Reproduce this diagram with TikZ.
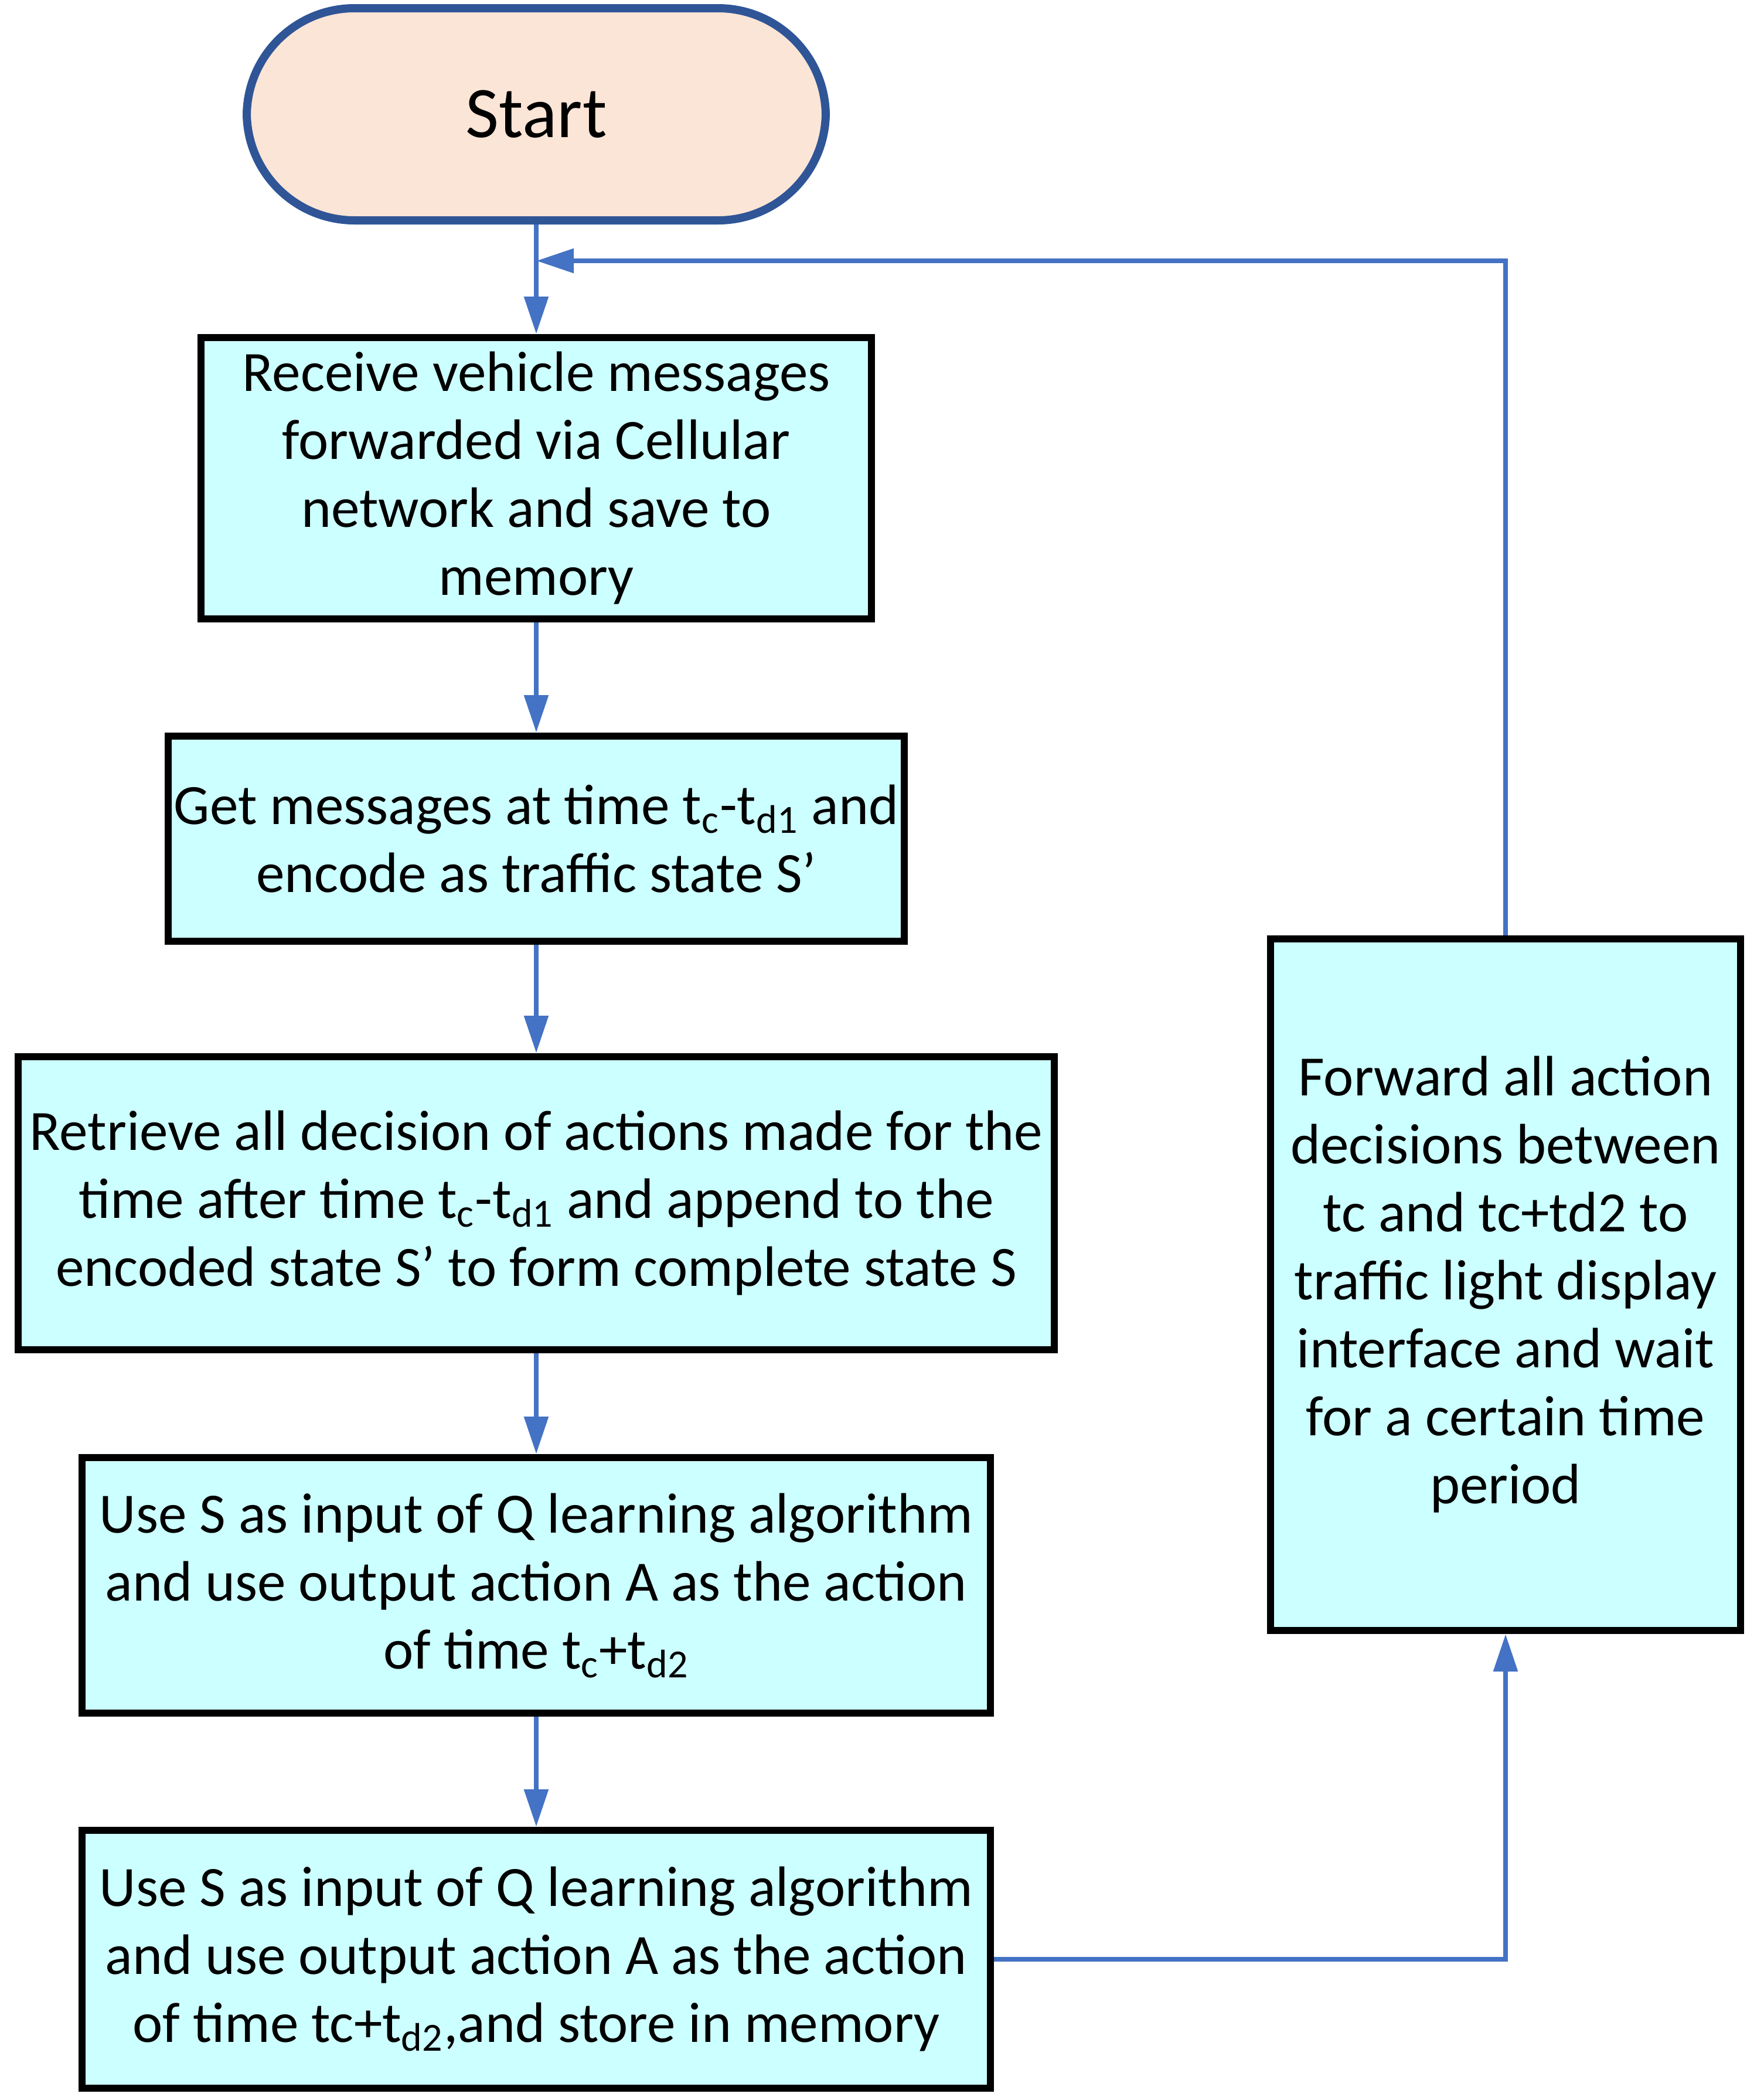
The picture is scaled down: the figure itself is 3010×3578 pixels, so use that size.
\documentclass[tikz,border=0pt]{standalone}
\usepackage{fontspec}
\setmainfont{Carlito}
\usetikzlibrary{arrows.meta}
\definecolor{procfill}{HTML}{CCFFFF}
\definecolor{termfill}{HTML}{FBE5D6}
\definecolor{termline}{HTML}{2F5597}
\definecolor{flowblue}{HTML}{4472C4}
\begin{document}
\begin{tikzpicture}[x=0.25pt,y=-0.25pt,
 proc/.style={draw=black,line width=3pt,fill=procfill,align=center,inner sep=0pt,font=\fontsize{24.3}{29}\selectfont},
 term/.style={draw=termline,line width=3.5pt,fill=termfill,rounded corners=46pt,inner sep=0pt,font=\fontsize{31}{37}\selectfont},
 flow/.style={draw=flowblue,line width=2.2pt,-{Triangle[length=16pt,width=10pt]}}]
\useasboundingbox (0,0) rectangle (3010,3578);

\node[term,minimum width=247pt,minimum height=90.5pt] (start) at (915,195) {Start};

\node[proc,minimum width=286pt,minimum height=120pt] (b1) at (915,816)
 {Receive vehicle messages\\forwarded via Cellular\\network and save to\\memory};

\node[proc,minimum width=314pt,minimum height=87.5pt] (b2) at (915,1431)
 {Get messages at time t\textsubscript{c}-t\textsubscript{d1} and\\encode as traffic state S’};

\node[proc,minimum width=442pt,minimum height=125pt] (b3) at (915,2053)
 {Retrieve all decision of actions made for the\\time after time t\textsubscript{c}-t\textsubscript{d1} and append to the\\encoded state S’ to form complete state S};

\node[proc,minimum width=387.5pt,minimum height=109pt] (b4) at (915,2705)
 {Use S as input of Q learning algorithm\\and use output action A as the action\\of time t\textsubscript{c}+t\textsubscript{d2}};

\node[proc,minimum width=387.5pt,minimum height=110pt] (b5) at (915,3343)
 {Use S as input of Q learning algorithm\\and use output action A as the action\\of time tc+t\textsubscript{d2},and store in memory};

\node[proc,minimum width=200.5pt,minimum height=295pt] (fwd) at (2569,2192)
 {Forward all action\\decisions between\\tc and tc+td2 to\\traffic light display\\interface and wait\\for a certain time\\period};

\coordinate (loopIn) at (915,445);

\draw[flow] (start.south) -- (b1.north);
\draw[flow] (b1.south) -- (b2.north);
\draw[flow] (b2.south) -- (b3.north);
\draw[flow] (b3.south) -- (b4.north);
\draw[flow] (b4.south) -- (b5.north);
\draw[flow] (b5.east) -| (fwd.south);
\draw[flow] (fwd.north) |- (loopIn);
\end{tikzpicture}
\end{document}
